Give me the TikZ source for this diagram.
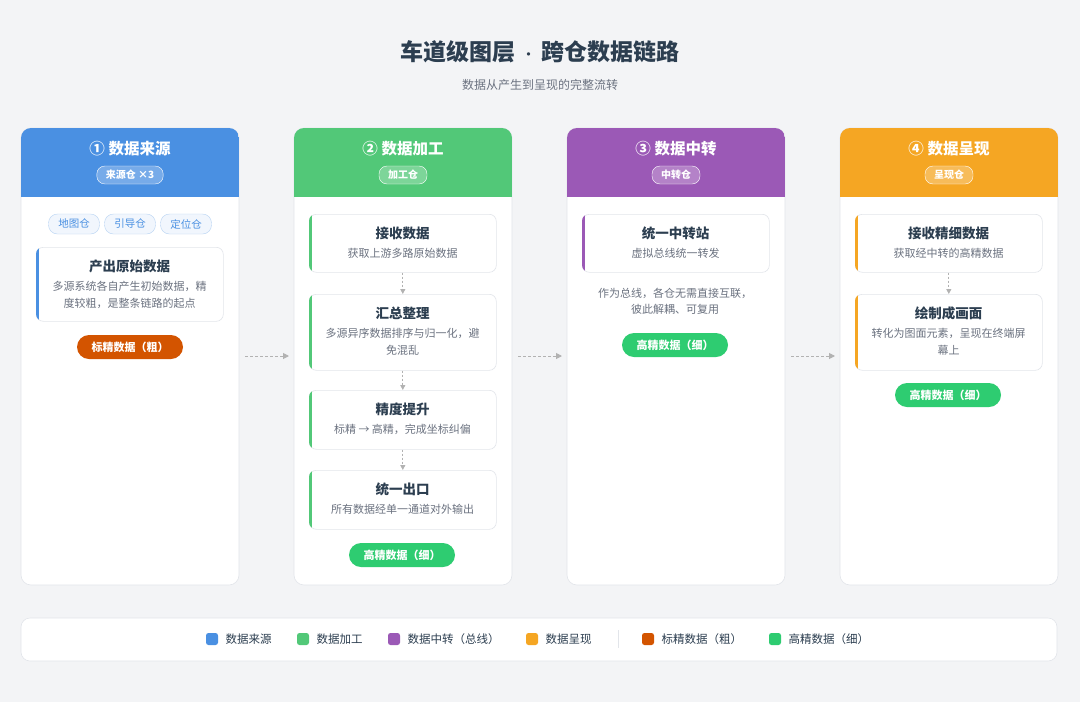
\documentclass[tikz,border=0pt]{standalone}
\usepackage{fontspec}
\setmainfont{Noto Sans CJK SC}
\usetikzlibrary{arrows.meta}
\definecolor{cblue}{HTML}{4A90E2}
\definecolor{cgreen}{HTML}{52C878}
\definecolor{cpurple}{HTML}{9B59B6}
\definecolor{corange}{HTML}{F5A623}
\definecolor{coarse}{HTML}{D35400}
\definecolor{fine}{HTML}{2ECC71}
\definecolor{ink}{HTML}{2C3E50}
\definecolor{muted}{HTML}{6B7280}
\definecolor{bg}{HTML}{F3F4F6}
\definecolor{bord}{HTML}{E2E5EA}
\tikzset{
 x=1pt,y=-1pt,
 card/.style={draw=bord,fill=white,rounded corners=10pt,line width=0.6pt},
 stepbox/.style={draw=bord,fill=white,rounded corners=7pt,line width=0.6pt,minimum width=187pt,anchor=north west,inner sep=0pt},
 ttl/.style={font=\bfseries\fontsize{13.5}{15}\selectfont,text=ink},
 sub/.style={font=\fontsize{11}{16.5}\selectfont,text=muted,align=center},
 head/.style={font=\bfseries\fontsize{15.5}{17}\selectfont,text=white},
 hpill/.style={draw=white!70,fill=white,fill opacity=0.25,text opacity=1,rounded corners=8pt,font=\bfseries\fontsize{10}{11}\selectfont,text=white,minimum height=18pt,inner xsep=9pt},
 tag/.style={draw=cblue!40,fill=cblue!8,rounded corners=9pt,font=\fontsize{10.5}{11}\selectfont,text=cblue,minimum height=20pt,minimum width=51pt},
 pill/.style={rounded corners=12pt,font=\bfseries\fontsize{11}{12}\selectfont,text=white,minimum height=24pt,minimum width=106pt},
 flow/.style={draw=gray!60,line width=1pt,-{Triangle[length=6pt,width=6pt]},dash pattern=on 3pt off 2pt},
 vflow/.style={draw=gray!60,line width=1pt,-{Triangle[length=5pt,width=5pt]},dash pattern=on 2pt off 2pt},
 leg/.style={font=\fontsize{11.5}{12}\selectfont,text=ink,anchor=west},
}
\newcommand{\mkcard}[5]{% x, color, name, title, tag
 \draw[card] (#1,128) rectangle ++(218,457);
 \begin{scope}
 \clip[rounded corners=10pt] (#1,128) rectangle ++(218,457);
 \fill[#2] (#1,128) rectangle ++(218,69);
 \end{scope}
 \node[head] (#3h) at (#1+109,149) {#4};
 \node[hpill] (#3t) at (#1+109,175) {#5};}
\newcommand{\mkstep}[7]{% name,x,y,h,color,title,sub
 \node[stepbox,minimum height=#4pt] (#1) at (#2,#3) {};
 \begin{scope}
 \clip[rounded corners=7pt] (#2,#3) rectangle ++(187,#4);
 \fill[#5] (#2,#3) rectangle ++(3,#4);
 \end{scope}
 \node[ttl] (#1a) at (#2+93.5,#3+19) {#6};
 \node[sub,anchor=north] (#1b) at (#2+93.5,#3+31) {#7};}
\begin{document}
\begin{tikzpicture}
\fill[bg] (0,0) rectangle (1080,702);
\useasboundingbox (0,0) rectangle (1080,702);
\node[font=\bfseries\fontsize{23}{26}\selectfont,text=ink] (title) at (540,52) {车道级图层 {\mdseries\fontsize{16}{16}\selectfont ·} 跨仓数据链路};
\node[font=\fontsize{12}{13}\selectfont,text=muted] (subt) at (540,85) {数据从产生到呈现的完整流转};
\mkcard{21}{cblue}{c1}{① 数据来源}{来源仓 ×3}
\mkcard{294}{cgreen}{c2}{② 数据加工}{加工仓}
\mkcard{567}{cpurple}{c3}{③ 数据中转}{中转仓}
\mkcard{840}{corange}{c4}{④ 数据呈现}{呈现仓}
% card1
\node[tag] (t1) at (74,224) {地图仓};
\node[tag] (t2) at (130,224) {引导仓};
\node[tag] (t3) at (186,224) {定位仓};
\mkstep{s1}{36}{247}{74}{cblue}{产出原始数据}{多源系统各自产生初始数据，精\\度较粗，是整条链路的起点}
\node[pill,fill=coarse] (p1) at (130,347) {标精数据（粗）};
% card2
\mkstep{a1}{309}{214}{58}{cgreen}{接收数据}{获取上游多路原始数据}
\mkstep{a2}{309}{294}{76}{cgreen}{汇总整理}{多源异序数据排序与归一化，避\\免混乱}
\mkstep{a3}{309}{390}{59}{cgreen}{精度提升}{标精 → 高精，完成坐标纠偏}
\mkstep{a4}{309}{470}{59}{cgreen}{统一出口}{所有数据经单一通道对外输出}
\draw[vflow] (a1.south) -- (a2.north);
\draw[vflow] (a2.south) -- (a3.north);
\draw[vflow] (a3.south) -- (a4.north);
\node[pill,fill=fine] (p2) at (402,555) {高精数据（细）};
% card3
\mkstep{b1}{582}{214}{58}{cpurple}{统一中转站}{虚拟总线统一转发}
\node[sub] (b2) at (675,301.5) {作为总线，各仓无需直接互联，\\彼此解耦、可复用};
\node[pill,fill=fine] (p3) at (675,345) {高精数据（细）};
% card4
\mkstep{d1}{855}{214}{58}{corange}{接收精细数据}{获取经中转的高精数据}
\mkstep{d2}{855}{294}{76}{corange}{绘制成画面}{转化为图面元素，呈现在终端屏\\幕上}
\draw[vflow] (d1.south) -- (d2.north);
\node[pill,fill=fine] (p4) at (948,395) {高精数据（细）};
% flow arrows
\coordinate (f1a) at (245,356); \coordinate (f1b) at (289,356);
\coordinate (f2a) at (518,356); \coordinate (f2b) at (562,356);
\coordinate (f3a) at (791,356); \coordinate (f3b) at (835,356);
\draw[flow] (f1a) -- (f1b);
\draw[flow] (f2a) -- (f2b);
\draw[flow] (f3a) -- (f3b);
% legend
\draw[card,rounded corners=9pt] (21,618) rectangle (1057,661);
\foreach \xx/\cc/\lbl in {206/cblue/数据来源,297/cgreen/数据加工,388/cpurple/数据中转（总线）,526/corange/数据呈现,642/coarse/标精数据（粗）,769/fine/高精数据（细）}{
 \fill[\cc,rounded corners=2.5pt] (\xx,633) rectangle ++(12,12);
 \node[leg] at (\xx+16,639) {\lbl};}
\draw[bord,line width=0.8pt] (618,630) -- (618,648);
\end{tikzpicture}
\end{document}
